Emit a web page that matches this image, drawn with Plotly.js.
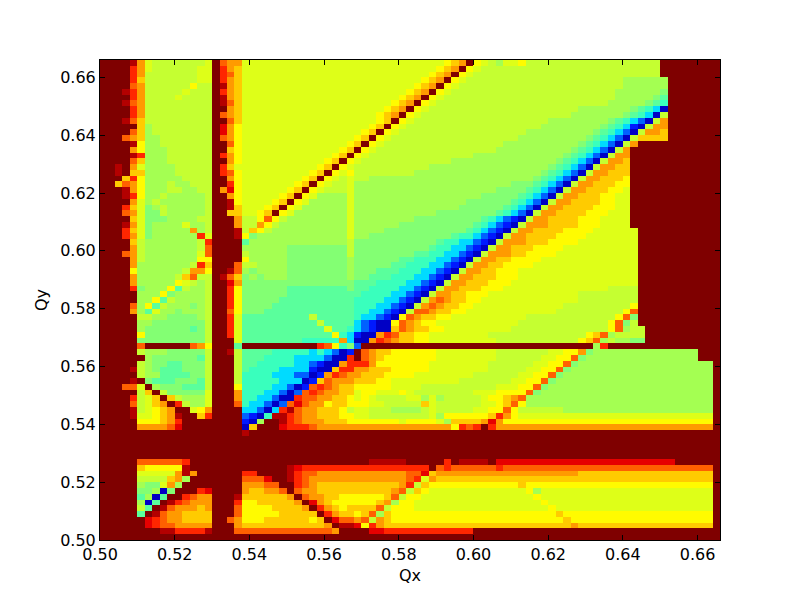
<!DOCTYPE html>
<html><head><meta charset="utf-8">
<script src="https://cdn.plot.ly/plotly-3.0.1.min.js"></script>
<style>html,body{margin:0;padding:0;background:#fff}</style></head>
<body><div id="chart" style="width:800px;height:600px"></div>
<script>
// One string per row of cells, top row first. Letter = colour level, number = run length.
const rows = [
"rrrrqm jiiiiiiij r nmm j27klmrkjihjjki18r8",
"rrrrom jiiiiiijj r oml j26klmrkji24r8",
"rrrrom iiiiiiijj r onl j25klmrkji25r8",
"rrrrol iiiiiiijj r oml j24klmrkji21h6r7",
"rrrrnm iiiiiikii r qml j23klmrkji22h6r7",
"rrrqom iiiiijiii r oml j22klmrkji22h6gr7",
"rrrrom iiiijiiii r qml j21klmrkji23h5gfr7",
"rrrqnm iiiiiiiii r qnl j20klmrkji23h5gfer7",
"rrrrom iiiiiiiii r rml j19klmrkji20h7gfedar7",
"rrrrom iiiiiiiii r nml j18klmrkji20h7gfedair7",
"rrrqnl iiiiiiiii r rnl j17jklrkji18h8gfedcaimr7",
"rrrrrl hiiiiiiii r pmk j16jklrkji18h8gfedbaimmr7",
"rrrrnl hiiiiiiii r pmk j15jklrkji17h9gfedcaimmlr7",
"rrrnml hhiiiiiii r nmk j14jklrkji17h9gfedcail4r7",
"rrrrqk hhiiiiiii r rnk j13jklrkji16h10gfedcaimr11",
"rrrrmk hhhiiiiii r rlk j12jklrkji16h10gfedcaimr12",
"rrrrqo hhhiiiiii r omk j11jklrkji14h12gfedcaimmr12",
"rrrrnl hhhiiiiii r rmk j10jklrkji12h14gfedcaimmlr12",
"rrqrmj hhhhiiiii r olj j9jklrkji10h16gfedcaimmllr12",
"rrqrll hhhhiiiii r onk j8jklrkjki8h17gfedcaimmlllr12",
"rrrlok hhhhhiiii r rmk j7jklrkjiji2h22gfedcaimmlllkr12",
"rrlnmk hhhihhiii r rok j6jklrkji2jh21g2gfedcaimmlllkkr12",
"rrrqmk hhhiihhii r mpk j5jklrkji3jh19g3gfedcaimmlllkkjr12",
"rrrqok hhihhhhhi r rmk j4jklrkjh4jh17g4gfedcaimmlllkkjjr12",
"rrrrmj hihhhhhhi r rqk j3jklrkjh5jh15g5gfedcaimmllllkkjjr12",
"rrrolj ghihhhhhi r rql j2jklrkjh6jh14g5gfedcaimmllllkkkjjr12",
"rrrnmj ggihhhhhi r rll jjklrkjh7jh11g7gfedcaimmllllkkkjjjr12",
"rrrrlj ggghhhhii r rrm i2knkih8jh8g9fedcbaimml4k3j4r12",
"rrrqmj ghhhhjhhi r rrm i2mkihh8jh6g10fedcbaim3l4k3j4r12",
"rrrolj ghhhhhmhi r rrq ilkihhh8jh4g11fedcbaim2l4k4j6r11",
"rrromj ghhhhhhoj r rrq kgh4h8jh2g11feedcbaim2l4k4j7r11",
"rrrrli hhhhhhhio r rrr fh5h8ig11feeddcbaim3l3k4j8r11",
"rrrrmi hhhhhhhin r rrr h6g8ig10feeddcbaim2l3k4j10r11",
"rrrnmi hhhhhhhjn r rrr ih5g8ig8ffeeddcbaimmml2k4j11r11",
"rrrrmi hhhhhhhkk r rrr kh5g8hg6ffeeeddcbaim2l2k4j13r11",
"rrrrmh hhhhhhiol r rrn i2h4g8hg5ffeeeddcbaim2l2k4j14r11",
"rrrrkh hhhhhimmk r rqn hgh4g8hg3f3e3d2cbaim2l2k3j16r11",
"rrrrmh hhhhilnii r qnl ghgh3g8hg2f3e3d2cbaim2l3k3j16r11",
"rrrrmh hhhhkjihi r rpm g15f3e4d2cbaim2l3k3j17r11",
"rrrrog hhhkfihhi r rok g6f8gf2e4d2cbaimml3k3j14i4r11",
"rrrrrh hhkghhhhi r rok g6f9fe4d2cbaimml2k3j12i8r11",
"rrrrrh hkfihhhhi r rok g5f10e4d2cbaimnml2k2j13i8r11",
"rrrrnh kfihhhghi r rok g4f11e3d2cbaimnml2k2j12i9kr11",
"rrrrmh fjhhghhhi r rnk g3f12e2d2cbainnml2k2j12i9knr11",
"rrrrri ihhgggghi r roj f9if5ed2cbaknml2k2jj9i12kngr11",
"rrrrrh hgggggggi r roj f10if4dcbaaknmlk2j2j9i12kngir11",
"rrrrrh ggggggfgi r roj f10fjf2edcbaalnml2k2jj8i13knhi2r11",
"rrrrrk ggggggggi r roj f12kedbaamonl2k2jj7i13klnhi4r10",
"rrrrrg ggggggggi r rrj f8e5mdaamonml2k2jj8i11klnhih2g2r10",
"rrrrrn rrrrrrnmk r rrf r10onkegcr31hor15",
"rrrrri hhhgggggi r rqi f4e5dedcabrnmllk6j8i7j2k2mgh14r3",
"rrrrrr hggggggfi r rri f3e4d2ddcaaornmlkk6j8i6j2k2ngh15r3",
"rrrrri hggffgggi r rri f2e5d2cbaamooomkkk5j8i6j2k2ngh18r",
"rrrrqi hgfffgggi r rri fe4d4baaloommlllk5j8i5j2k2ngh19r",
"rrrrri hhffffggi r rri e4d3c2abmonmmlllkk3j8i6j2k2ngh20r",
"rrrrqr gfffgggfi r rri e5d3ablnmmmlllkkj9i7j2k2ngh21r",
"rrrnnj rhgggfffi r rrk e4d2cabnonmllkk4j4i10j3k2ngh22r",
"rrrrri lrigggggj r rrm e3d2cacnonmmlljkkjjjkji8j3k4ngh23r",
"rrrroi jlrlihhhj r rrm e2d2caaonnmmllkjkjiiiijjhjhi5jkklmnh25r",
"rrrrni jlmroihhj r rrn eddcacnpnmmkllkkkjjiiiiilji6j2klnkh25r",
"rrrrqi jklmrrjkm r rrr ddcadoqnmmlllkijjiiihhhhiji5j2k2nkii5h20r",
"rrrrqj jklmqrrlo r rrr cbaeqqonmmlllkkjjiiiiiiiijhk6lomkj26r",
"rrrrrk kklmorrrr r rrr bahrrqonmmmlllkkkkkkkjkkkkjhl4mpmkkkk25r",
"rrrrrm mmmnprrrr r rrr alrrrpooonm18konorom29r",
"r19 qr63",
"r19 r64",
"r19 r64",
"r19 r64",
"r19 r64",
"rrrrrn nnnnnorrr r rrr r17q5r5orq4rp24r6",
"rrrrrl kkkkkqrrr r rrr r6qpoo16rnon6on28r",
"rrrrrj jjjjmqmrr r rrr o2r4qonnm12nnplmm18l18r",
"rrrrri iiilmhrrr r rrr n3prrqonm13nojml37r",
"rrrrrh ggjmhrrrr r rrr m3n2r2onml11moilk12lk25r",
"rrrrrg ghagrrrop r rrr mllmmnrnmml10mnilkj13khj23r",
"rrrrrf hafrronmm r rrq l6mrnmmllk6lnikkj15kj23r",
"rrrrrh afrqonmmm r rro kkl5mrpmlk6lmhkkj17kj22r",
"rrrrri frqnmmmlm r rrn k4l4mromlkl4nik3j18kj21r",
"rrrrrf rqnmmllll r rrn k5l4lromllklnhlkkk20lk20r",
"rrrrrr ponmmllll r rnm k3l6klrpnnmnimlkk22lk19r",
"rrrrrr ponnmmmmm r rrm l9llmrqqpkoml25ml18r",
"rrrrrr rrqqooooq r rrn n9nnnmr4ppo12r33",
"r83"
];
const letters = "abcdefghijklmnopqr";
const levels = [0.06,0.15,0.22,0.34,0.42,0.46,0.51,0.55,0.59,0.62,0.65,0.70,0.75,0.81,0.87,0.92,0.96,1.0];
const xStart = 0.501, yStart = 0.501, step = 0.002;
const xTicks = [0.50,0.52,0.54,0.56,0.58,0.60,0.62,0.64,0.66];
const yTicks = [0.50,0.52,0.54,0.56,0.58,0.60,0.62,0.64,0.66];
const jet = [[0,'#00007f'],[0.11,'#0000ff'],[0.125,'#0000ff'],[0.34,'#00dbff'],[0.35,'#00e6f7'],[0.375,'#14ffe2'],[0.64,'#eeff08'],[0.65,'#fffb00'],[0.89,'#ff1300'],[0.91,'#f30000'],[1,'#7f0000']];

function decode(s){
  const out=[]; const re=/([a-r])(\d*)/g; let m;
  while((m=re.exec(s))){ const n=m[2]?+m[2]:1; for(let i=0;i<n;i++) out.push(levels[letters.indexOf(m[1])]); }
  while(out.length<83) out.push(1.0);
  return out.slice(0,83);
}
const z = rows.map(decode).reverse();
const axisBase = {range:[0.5,0.666],showgrid:false,zeroline:false,showline:true,mirror:'allticks',linecolor:'#000',linewidth:1,
  ticks:'inside',ticklen:5,tickwidth:1,tickcolor:'#000',tickformat:'.2f',tickfont:{family:'DejaVu Sans',size:16,color:'#000'}};
Plotly.newPlot('chart',[{type:'heatmap',z:z,x0:xStart,dx:step,y0:yStart,dy:step,zmin:0,zmax:1,zsmooth:false,showscale:false,colorscale:jet,hoverongaps:false}],
{width:800,height:600,paper_bgcolor:'#fff',plot_bgcolor:'#fff',margin:{l:100,r:80,t:60,b:60},showlegend:false,
 xaxis:Object.assign({},axisBase,{tickmode:'array',tickvals:xTicks,title:{text:'Qx',font:{family:'DejaVu Sans',size:16,color:'#000'},standoff:6}}),
 yaxis:Object.assign({},axisBase,{tickmode:'array',tickvals:yTicks,title:{text:'Qy',font:{family:'DejaVu Sans',size:16,color:'#000'},standoff:8}})
},{displayModeBar:false,staticPlot:true});
</script></body></html>
